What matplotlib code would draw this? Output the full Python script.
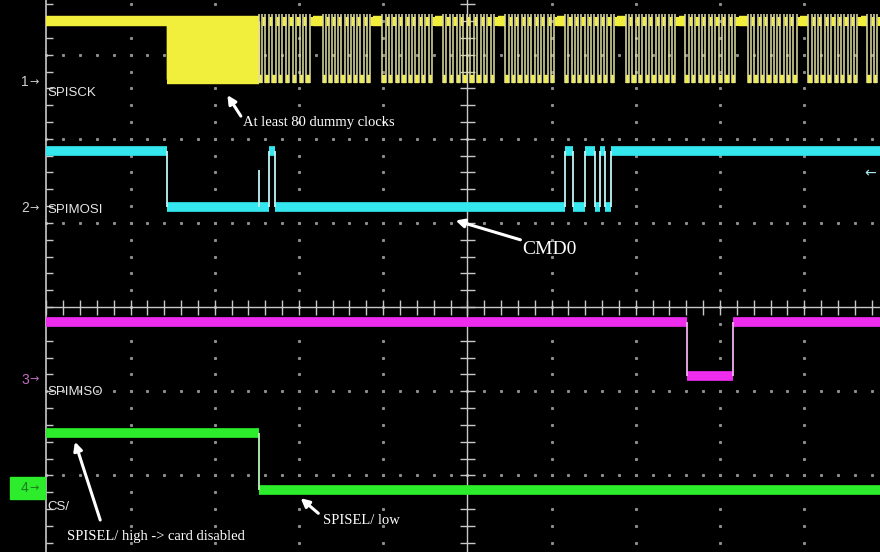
import matplotlib
matplotlib.use("Agg")
import matplotlib.pyplot as plt
import numpy as np

# ---------------- data (time & level in scope divisions) ----------------
X_MIN, X_MAX = -5.55, 4.90
Y_MIN, Y_MAX = -2.91, 3.65
T0 = -5.0  # left edge of graticule / trace start

# CH1 SPISCK (clock idles high)
sck_high, sck_low = 3.40, 2.71
dummy_start, dummy_end, dummy_cycles = -3.57, -2.48, 80
byte_starts = [-2.48, -1.72, -1.01, -0.29, 0.45, 1.16, 1.88, 2.59, 3.33, 4.05, 4.75]
byte_ends = [-1.83, -1.12, -0.38, 0.36, 1.07, 1.78, 2.51, 3.22, 3.95, 4.67, 5.38]
bits_per_byte = 8

# CH2 SPIMOSI
mosi_high, mosi_low = 1.85, 1.19
mosi_times = [T0, -3.57, -2.36, -2.28, 1.16, 1.25, 1.40, 1.51, 1.57, 1.63, 1.71]
mosi_states = [1, 0, 1, 0, 1, 0, 1, 0, 1, 0, 1]
mosi_glitch_t = [-2.48]
mosi_glitch_top = [1.63]

# CH3 SPIMISO
miso_high, miso_low = -0.18, -0.82
miso_times = [T0, 2.61, 3.16]
miso_states = [1, 0, 1]

# CH4 CS/ (SPISEL/)
cs_high, cs_low = -1.50, -2.17
cs_times = [T0, -2.48]
cs_states = [1, 0]

# channel labels
ch_names = ["SPISCK", "SPIMOSI", "SPIMISO", "CS/"]
ch_marker_y = [2.68, 1.18, -0.86, -2.15]
ch_name_y = [2.55, 1.16, -1.01, -2.37]

# annotations: text, text pos, arrow tail, arrow head
ann_texts = ["At least 80 dummy clocks", "CMD0",
             "SPISEL/ high -> card disabled", "SPISEL/ low"]
ann_pos = [(-2.67, 2.20), (0.65, 0.68), (-4.75, -2.73), (-1.72, -2.53)]
ann_tail = [(-2.69, 2.27), (0.63, 0.80), (-4.36, -2.53), (-1.77, -2.45)]
ann_head = [(-2.85, 2.52), (-0.14, 1.03), (-4.66, -1.60), (-1.98, -2.27)]
ann_size = [10.5, 14, 10.5, 10.5]

# ---------------- figure ----------------
fig = plt.figure(figsize=(8.8, 5.52), dpi=100, facecolor="black")
ax = fig.add_axes([0, 0, 1, 1])
ax.set_facecolor("black")
ax.set_xlim(X_MIN, X_MAX)
ax.set_ylim(Y_MIN, Y_MAX)
ax.axis("off")

GRID = "#c8c8c8"
DOT = "#8c8c8c"

# dotted graticule
for gx in range(-4, 5):
    if gx == 0:
        continue
    ys = np.arange(-4, 4.01, 0.2)
    ax.plot([gx] * len(ys), ys, ls="none", marker="s", ms=1.2, color=DOT, zorder=1)
for gy in [-3, -2, -1, 1, 2, 3]:
    xs = np.arange(-5, 5.01, 0.2)
    ax.plot(xs, [gy] * len(xs), ls="none", marker="s", ms=1.2, color=DOT, zorder=1)

# solid center cross and left border
ax.axvline(0, color=GRID, lw=1.0, zorder=1)
ax.hlines(0, T0, X_MAX, color=GRID, lw=1.0, zorder=1)
ax.axvline(T0, color=GRID, lw=1.2, zorder=1)
tk = np.arange(-4, 4.01, 0.2)
ax.hlines(tk, -0.085, 0.085, color=GRID, lw=1.0, zorder=1)
ax.hlines(tk, T0, T0 + 0.08, color=GRID, lw=1.0, zorder=1)
tkx = np.arange(-5, 5.01, 0.2)
ax.vlines(tkx, -0.09, 0.09, color=GRID, lw=1.0, zorder=1)


def draw_digital(times, states, hi, lo, color, edge_color, lw=7):
    times = list(times) + [X_MAX]
    for i, s in enumerate(states):
        lvl = hi if s else lo
        ax.hlines(lvl, times[i], times[i + 1], color=color, lw=lw, zorder=3)
        if i > 0:
            ax.vlines(times[i], lo, hi, color=edge_color, lw=1.3, zorder=4)


# CH1 clock
YEL = "#f2ee3c"
YEL_EDGE = "#e0dea0"
clk_lw = 7.5
ax.hlines(sck_high, T0, dummy_start, color=YEL, lw=clk_lw, zorder=3)
# dummy clocks
p = (dummy_end - dummy_start) / dummy_cycles
edges = dummy_start + p * np.arange(0, 2 * dummy_cycles + 1) / 2
ax.vlines(edges, sck_low, sck_high, color=YEL, lw=1.0, zorder=3)
ax.hlines([sck_high, sck_low], dummy_start, dummy_end, color=YEL, lw=clk_lw, zorder=3)
prev_end = dummy_end
for bs, be in zip(byte_starts, byte_ends):
    ax.hlines(sck_high, prev_end, bs, color=YEL, lw=clk_lw, zorder=3)
    pb = (be - bs) / bits_per_byte
    for k in range(bits_per_byte):
        c0 = bs + k * pb
        ax.hlines(sck_low, c0, c0 + pb / 2, color=YEL, lw=6, zorder=3)
        ax.hlines(sck_high, c0 + pb / 2, c0 + pb, color=YEL, lw=6.5, zorder=3)
        ax.vlines([c0, c0 + pb / 2], sck_low - 0.05, sck_high + 0.08,
                  color=YEL_EDGE, lw=1.1, zorder=4)
    prev_end = be

# CH2..CH4
draw_digital(mosi_times, mosi_states, mosi_high, mosi_low, "#34e6ee", "#bff4f6")
ax.vlines(mosi_glitch_t, mosi_low, mosi_glitch_top, color="#bff4f6", lw=1.3, zorder=4)
draw_digital(miso_times, miso_states, miso_high, miso_low, "#ee2cee", "#f0b0f0")
draw_digital(cs_times, cs_states, cs_high, cs_low, "#2cec2c", "#b8f4b8")

# channel markers / names
SANS = "Liberation Sans"
for i, (my, ny, nm) in enumerate(zip(ch_marker_y, ch_name_y, ch_names)):
    num_col = "#d0d0d0" if i < 2 else ("#c070c0" if i == 2 else "#1f7a1f")
    if i == 3:
        ax.add_patch(plt.Rectangle((-5.43, my - 0.13), 0.42, 0.26,
                                   color="#2cec2c", zorder=5))
    ax.text(-5.30, my, f"{i + 1}", color=num_col, fontsize=10, family=SANS,
            ha="left", va="center", zorder=6)
    ax.text(-5.20, my, "→", color=num_col, fontsize=8, family="DejaVu Sans",
            ha="left", va="center", zorder=6)
    ax.text(-4.99, ny, nm, color="#e6e6e6", fontsize=9.5, family=SANS,
            ha="left", va="center", zorder=6)

# cyan reference arrow at right
ax.text(4.71, 1.59, "←", color="#a8eaf0", fontsize=10, family="DejaVu Sans",
        ha="left", va="center", zorder=6)

# annotations
for txt, pos, tail, head, fs in zip(ann_texts, ann_pos, ann_tail, ann_head, ann_size):
    ax.text(pos[0], pos[1], txt, color="white", fontsize=fs,
            family="Liberation Serif", ha="left", va="center", zorder=7)
    ax.annotate("", xy=head, xytext=tail,
                arrowprops=dict(arrowstyle="-|>,head_width=0.25,head_length=0.5",
                                color="white", lw=2.2, shrinkA=0, shrinkB=0),
                zorder=7)

fig.savefig("out.png", dpi=100, facecolor="black")
